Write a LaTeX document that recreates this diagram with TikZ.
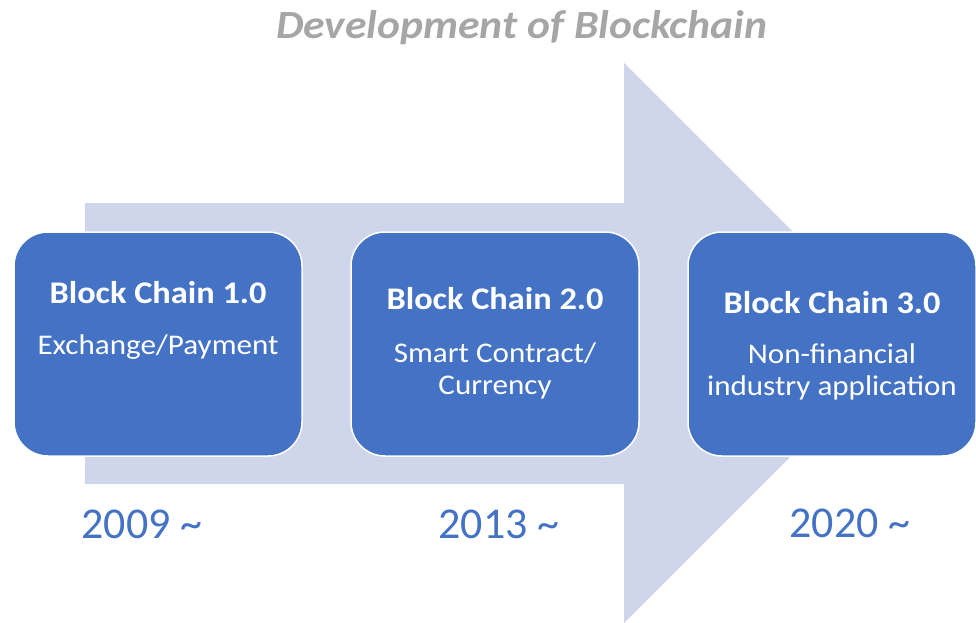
\documentclass[tikz,border=0pt]{standalone}
\usepackage{fontspec}
\setmainfont{Carlito}
\newfontfamily\widefont[FakeStretch=1.09]{Carlito}
\definecolor{boxblue}{HTML}{4472C4}
\definecolor{arrowfill}{HTML}{CFD5EA}
\definecolor{titlegray}{HTML}{A6A6A6}
\begin{document}
\begin{tikzpicture}[x=1pt,y=-1pt,
  stage/.style={draw=white, line width=1.5pt, fill=boxblue, rounded corners=34pt,
    minimum width=288pt, minimum height=224pt, inner sep=0pt},
  head/.style={text=white, font=\widefont\bfseries\fontsize{31.5}{34}\selectfont},
  sub/.style={text=white, align=center, font=\widefont\fontsize{28.5}{32.5}\selectfont},
  year/.style={text=boxblue, font=\fontsize{44}{48}\selectfont},
  title/.style={text=titlegray, font=\widefont\bfseries\itshape\fontsize{40}{44}\selectfont}]
\useasboundingbox (0,0) rectangle (976,623);
% big background arrow
\fill[arrowfill] (85,203) -- (624,203) -- (624,63) -- (904,343) -- (624,623)
  -- (624,484) -- (85,484) -- cycle;
% title
\node[title] (ttl) at (522,28) {Development of Blockchain};
% stage boxes
\node[stage] (b1) at (158,344) {};
\node[stage] (b2) at (495,344) {};
\node[stage] (b3) at (832,344) {};
% box texts
\node[head] (h1) at (158,293) {Block Chain 1.0};
\node[sub]  (s1) at (158,347) {Exchange/Payment};
\node[head] (h2) at (495,299) {Block Chain 2.0};
\node[sub]  (s2) at (495,371) {Smart Contract/\\Currency};
\node[head] (h3) at (832,303) {Block Chain 3.0};
\node[sub]  (s3) at (832,372) {Non-financial\\industry application};
% years
\node[year] (y1) at (142,524) {2009 \textasciitilde};
\node[year] (y2) at (499,524) {2013 \textasciitilde};
\node[year] (y3) at (850,523) {2020 \textasciitilde};
\end{tikzpicture}
\end{document}
